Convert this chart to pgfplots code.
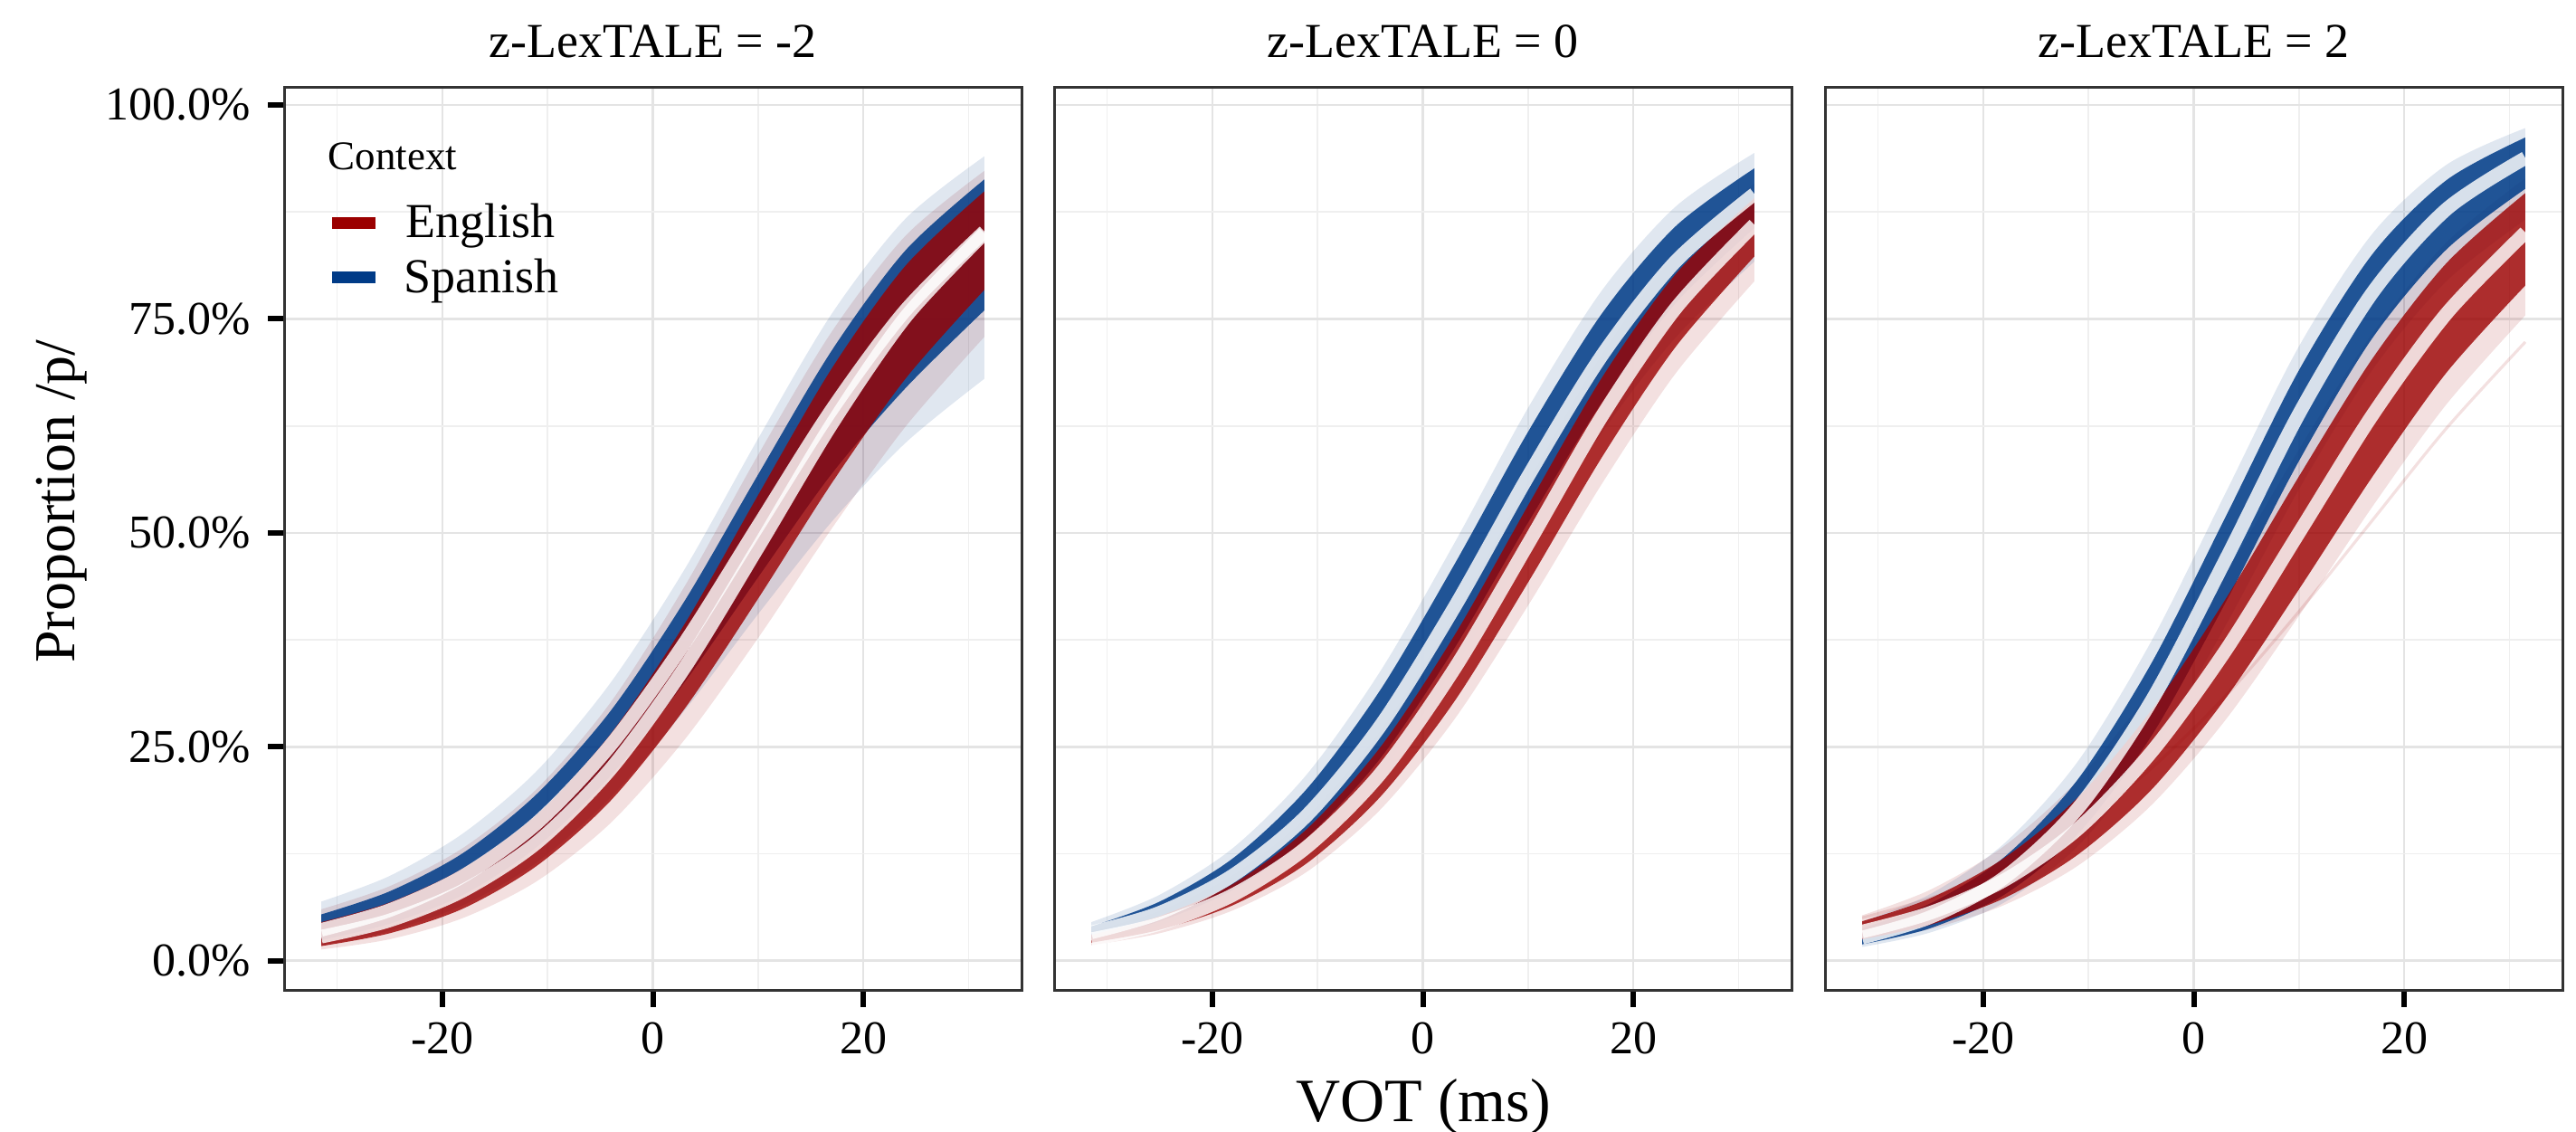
\documentclass[border=0pt]{standalone}
\usepackage{fontspec}
\setmainfont{Liberation Serif}
\usepackage{pgfplots}
\pgfplotsset{compat=1.18}
\usepackage{pgfplotstable}
\usepgfplotslibrary{fillbetween}
\definecolor{engred}{RGB}{155,0,0}
\definecolor{spablue}{RGB}{0,59,135}
\definecolor{gridmaj}{RGB}{228,228,228}
\definecolor{gridmin}{RGB}{239,239,239}

% columns: S/E = Spanish/English; ou/ol = outer envelope of draws, cu/cl = core of draws, m = posterior mean
\pgfplotstableread{
x Sou Scu Sm Scl Sol Eou Ecu Em Ecl Eol
-31.5 0.069 0.054 0.036 0.024 0.018 0.060 0.045 0.028 0.017 0.013
-25 0.099 0.081 0.059 0.043 0.035 0.087 0.068 0.047 0.032 0.025
-18 0.149 0.126 0.099 0.077 0.065 0.132 0.108 0.082 0.061 0.050
-11 0.222 0.195 0.161 0.133 0.115 0.201 0.171 0.138 0.111 0.093
-4 0.325 0.292 0.252 0.216 0.191 0.302 0.265 0.224 0.187 0.161
3 0.457 0.420 0.371 0.325 0.292 0.437 0.393 0.342 0.294 0.258
10 0.610 0.568 0.508 0.448 0.405 0.591 0.544 0.483 0.423 0.377
17 0.756 0.713 0.644 0.569 0.513 0.735 0.692 0.627 0.558 0.505
24 0.867 0.830 0.760 0.669 0.605 0.847 0.812 0.752 0.680 0.624
31.5 0.940 0.913 0.852 0.760 0.680 0.923 0.899 0.850 0.784 0.729
}\tA
\pgfplotstableread{
x Sou Scu Sm Scl Sol Eou Ecu Em Ecl Eol
-31.5 0.045 0.040 0.033 0.026 0.023 0.034 0.030 0.025 0.021 0.018
-25 0.077 0.069 0.056 0.046 0.041 0.058 0.052 0.043 0.036 0.032
-18 0.132 0.120 0.100 0.083 0.075 0.100 0.090 0.077 0.065 0.059
-11 0.218 0.201 0.170 0.144 0.131 0.168 0.154 0.133 0.114 0.104
-4 0.339 0.317 0.275 0.237 0.220 0.269 0.250 0.219 0.192 0.177
3 0.488 0.463 0.413 0.365 0.342 0.404 0.380 0.341 0.303 0.282
10 0.646 0.618 0.566 0.512 0.482 0.559 0.532 0.487 0.442 0.415
17 0.783 0.756 0.707 0.652 0.617 0.708 0.681 0.636 0.588 0.557
24 0.881 0.858 0.817 0.768 0.728 0.825 0.802 0.762 0.717 0.686
31.5 0.944 0.926 0.896 0.856 0.817 0.908 0.891 0.860 0.823 0.794
}\tB
\pgfplotstableread{
x Sou Scu Sm Scl Sol Eou Ecu Em Ecl Eol Str
-31.5 0.046 0.038 0.027 0.019 0.016 0.053 0.046 0.034 0.025 0.021 0.050
-25 0.078 0.067 0.051 0.038 0.033 0.083 0.073 0.056 0.042 0.037 0.073
-18 0.137 0.121 0.097 0.077 0.068 0.134 0.120 0.094 0.073 0.065 0.108
-11 0.233 0.212 0.178 0.148 0.134 0.211 0.191 0.154 0.124 0.111 0.158
-4 0.374 0.348 0.304 0.263 0.242 0.318 0.293 0.244 0.200 0.182 0.225
3 0.546 0.518 0.468 0.418 0.391 0.451 0.422 0.362 0.306 0.281 0.309
10 0.718 0.690 0.639 0.584 0.551 0.597 0.566 0.500 0.434 0.403 0.408
17 0.850 0.826 0.781 0.728 0.691 0.733 0.704 0.638 0.566 0.531 0.515
24 0.930 0.912 0.878 0.831 0.794 0.839 0.815 0.756 0.687 0.650 0.622
31.5 0.973 0.962 0.938 0.902 0.866 0.914 0.897 0.851 0.789 0.754 0.723
}\tC

\newcommand{\curves}[1]{%
  \addplot[name path=sou, draw=none, smooth, forget plot] table[x=x,y=Sou]{#1};
  \addplot[name path=sol, draw=none, smooth, forget plot] table[x=x,y=Sol]{#1};
  \addplot[name path=scu, draw=none, smooth, forget plot] table[x=x,y=Scu]{#1};
  \addplot[name path=scl, draw=none, smooth, forget plot] table[x=x,y=Scl]{#1};
  \addplot[name path=eou, draw=none, smooth, forget plot] table[x=x,y=Eou]{#1};
  \addplot[name path=eol, draw=none, smooth, forget plot] table[x=x,y=Eol]{#1};
  \addplot[name path=ecu, draw=none, smooth, forget plot] table[x=x,y=Ecu]{#1};
  \addplot[name path=ecl, draw=none, smooth, forget plot] table[x=x,y=Ecl]{#1};
  \addplot[fill=engred, fill opacity=0.12, draw=none, forget plot] fill between[of=eou and eol];
  \addplot[fill=spablue, fill opacity=0.12, draw=none, forget plot] fill between[of=sou and sol];
  \addplot[fill=spablue, fill opacity=0.86, draw=none, forget plot] fill between[of=scu and scl];
  \addplot[fill=engred, fill opacity=0.8, draw=none, forget plot] fill between[of=ecu and ecl];
  \addplot[white, opacity=0.82, line width=3.75pt, smooth, forget plot] table[x=x,y=Sm]{#1};
  \addplot[white, opacity=0.82, line width=3.75pt, smooth, forget plot] table[x=x,y=Em]{#1};
}

\pgfplotsset{
  panel/.style={
    scale only axis, width=203.75pt, height=249.5pt, anchor=south west,
    xmin=-35.03, xmax=35.03, ymin=-0.0353, ymax=1.0201,
    xtick={-20,0,20}, xticklabels={-20,0,20},
    minor xtick={-30,-10,10,30},
    ytick={0,0.25,0.5,0.75,1},
    minor ytick={0.125,0.375,0.625,0.875},
    grid=both,
    major grid style={gridmaj, line width=0.65pt},
    minor grid style={gridmin, line width=0.45pt},
    tick align=outside,
    major tick length=4.5pt, minor tick length=0pt,
    xtick pos=left, ytick pos=left,
    tick style={black, line width=1.5pt},
    axis line style={black!80, line width=0.75pt},
    ticklabel style={font=\fontsize{13}{15}\selectfont, inner sep=0pt},
    xticklabel style={anchor=base, yshift=-13pt},
    every axis title/.style={at={(0.5,1)}, anchor=base, yshift=8.25pt, font=\fontsize{13.5}{16}\selectfont},
    /pgf/number format/assume math mode=true,
  }
}

\begin{document}
\begin{tikzpicture}
\begin{axis}[panel, at={(78.5pt,39pt)}, title={z-LexTALE = -2},
  yticklabels={0.0\%,25.0\%,50.0\%,75.0\%,100.0\%},
  yticklabel style={anchor=east, xshift=-4.5pt}]
\curves{\tA}
\end{axis}
\begin{axis}[panel, at={(291.25pt,39pt)}, title={z-LexTALE = 0},
  yticklabels={}, ytick style={draw=none}]
\curves{\tB}
\end{axis}
\begin{axis}[panel, at={(504.25pt,39pt)}, title={z-LexTALE = 2},
  yticklabels={}, ytick style={draw=none}]
\addplot[engred, opacity=0.12, line width=0.8pt, smooth, forget plot] table[x=x,y=Str]{\tC};
\curves{\tC}
\end{axis}
% legend
\node[anchor=base west, inner sep=0pt, font=\fontsize{11.25}{13}\selectfont] at (90.5pt,265.75pt) {Context};
\draw[engred, line width=3.25pt] (91.75pt,251pt) -- (103.75pt,251pt);
\draw[spablue, line width=3.25pt] (91.75pt,236pt) -- (103.75pt,236pt);
\node[anchor=base west, inner sep=0pt, font=\fontsize{13.5}{16}\selectfont] at (112pt,247pt) {English};
\node[anchor=base west, inner sep=0pt, font=\fontsize{13.5}{16}\selectfont] at (111.5pt,231.75pt) {Spanish};
% axis titles
\node[anchor=base, inner sep=0pt, font=\fontsize{17}{20}\selectfont] at (393.25pt,2.75pt) {VOT (ms)};
\node[rotate=90, inner sep=0pt, font=\fontsize{16}{19}\selectfont] at (17pt,174.25pt) {Proportion /p/};
\pgfresetboundingbox
\useasboundingbox (0,0) rectangle (711.75pt,312.75pt);
\end{tikzpicture}
\end{document}
